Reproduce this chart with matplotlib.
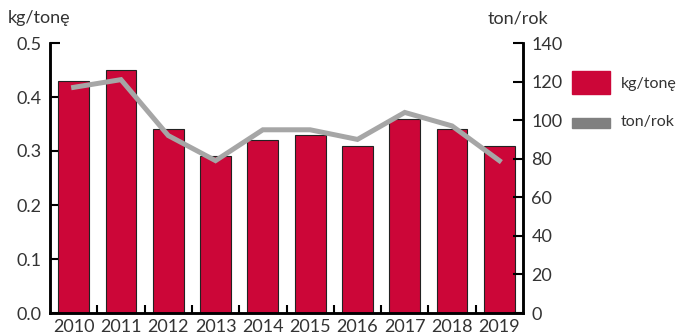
import matplotlib.pyplot as plt
import numpy as np

# emissions per tonne (bars, left axis) and tonnes per year (line, right axis)
years = ['2010', '2011', '2012', '2013', '2014', '2015', '2016', '2017', '2018', '2019']
kg_per_tonne = [0.43, 0.45, 0.34, 0.29, 0.32, 0.33, 0.31, 0.36, 0.34, 0.31]
tons_per_year = [117, 121, 92, 79, 95, 95, 90, 104, 97, 79]

plt.rcParams['font.family'] = ['Lato', 'DejaVu Sans']
text_color = '#333333'
bar_color = '#cc0638'
line_color = '#a6a6a6'

fig = plt.figure(figsize=(6.77, 3.36), dpi=100)
ax = fig.add_axes([50 / 677, 23 / 336, 473 / 677, 270 / 336])
ax2 = ax.twinx()

x = np.arange(len(years))
ax.bar(x, kg_per_tonne, width=0.65, color=bar_color, edgecolor='#222222', linewidth=0.8, zorder=2)
ax2.plot(x, tons_per_year, color=line_color, linewidth=3.6, solid_joinstyle='miter', zorder=3)

ax.set_xlim(-0.5, len(years) - 0.5)
ax.set_ylim(0, 0.5)
ax2.set_ylim(0, 140)
ax.set_yticks(np.arange(0, 0.51, 0.1))
ax.set_yticklabels([f'{v:.1f}' for v in np.arange(0, 0.51, 0.1)])
ax2.set_yticks(range(0, 141, 20))

# year labels centred under bars, small ticks between them
ax.set_xticks(x)
ax.set_xticklabels(years)
ax.set_xticks(x[:-1] + 0.5, minor=True)
ax.tick_params(axis='x', which='major', length=0, pad=4, labelsize=13, labelcolor=text_color)
ax.tick_params(axis='x', which='minor', direction='in', length=6, width=1.5, color='black')
ax.tick_params(axis='y', direction='in', length=7, width=1.5, labelsize=13, labelcolor=text_color, pad=6)
ax2.tick_params(axis='y', direction='in', length=7, width=1.5, labelsize=13, labelcolor=text_color, pad=6)

for a in (ax, ax2):
    a.spines['top'].set_visible(False)
    for side in ('left', 'right', 'bottom'):
        a.spines[side].set_linewidth(1.8)
        a.spines[side].set_color('black')

ax.set_zorder(ax2.get_zorder() - 1)
ax.patch.set_visible(False)

fig.text(8 / 677, 1 - 18 / 336, 'kg/tonę', fontsize=13, color=text_color, va='center', ha='left')
fig.text(518 / 677, 1 - 18 / 336, 'ton/rok', fontsize=13, color=text_color, va='center', ha='center')

# legend drawn as patches in figure coordinates
fig.patches.append(plt.Rectangle((572 / 677, 1 - 94 / 336), 38 / 677, 23 / 336,
                                 transform=fig.transFigure, color=bar_color, figure=fig))
fig.patches.append(plt.Rectangle((572 / 677, 1 - 128 / 336), 38 / 677, 10 / 336,
                                 transform=fig.transFigure, color='#808080', figure=fig))
fig.text(621 / 677, 1 - 84 / 336, 'kg/tonę', fontsize=11.5, color=text_color, va='center', ha='left')
fig.text(621 / 677, 1 - 122 / 336, 'ton/rok', fontsize=11.5, color=text_color, va='center', ha='left')

fig.savefig('out.png', dpi=100)
